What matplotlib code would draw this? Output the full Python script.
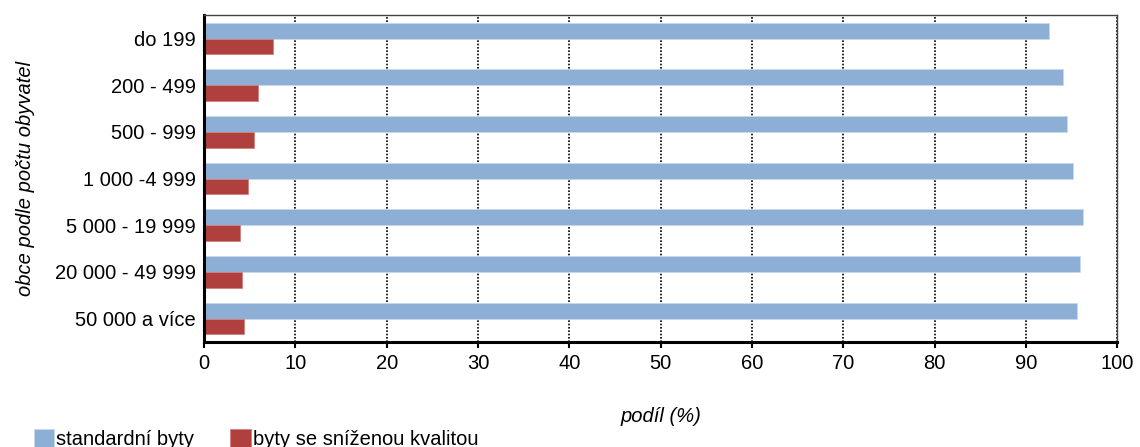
import matplotlib
matplotlib.use("Agg")
import matplotlib.pyplot as plt
import numpy as np

plt.rcParams["font.family"] = ["Liberation Sans", "DejaVu Sans"]

categories = ["do 199", "200 - 499", "500 - 999", "1 000 -4 999",
              "5 000 - 19 999", "20 000 - 49 999", "50 000 a více"]
standard = [92.5, 94.1, 94.5, 95.2, 96.2, 95.9, 95.6]
reduced = [7.5, 5.9, 5.5, 4.8, 3.9, 4.2, 4.4]
series_names = ["standardní byty", "byty se sníženou kvalitou"]

fs = 14.5
fig, ax = plt.subplots(figsize=(11.4, 4.47), dpi=100)
fig.subplots_adjust(left=0.179, right=0.98, top=0.966, bottom=0.235)

y = np.arange(len(categories))
h = 0.34
ax.barh(y - h / 2, standard, height=h, color="#8DAFD5", edgecolor="#C9D8EA",
        linewidth=0.6, label=series_names[0], zorder=2)
ax.barh(y + h / 2, reduced, height=h, color="#AF403D", edgecolor="#D08080",
        linewidth=0.6, label=series_names[1], zorder=2)

ax.set_ylim(len(categories) - 0.5, -0.5)
ax.set_xlim(0, 100)
ax.set_xticks(range(0, 101, 10))
ax.set_yticks(y, categories)
ax.tick_params(axis="y", length=0, labelsize=fs, pad=6)
ax.tick_params(axis="x", direction="out", length=4, width=1.5, labelsize=fs, pad=5)
ax.xaxis.grid(True, linestyle=(0, (1, 1)), color="black", linewidth=1.2, zorder=1)

for side in ["left", "bottom"]:
    ax.spines[side].set_linewidth(2.2)
for side in ["top", "right"]:
    ax.spines[side].set_linewidth(1.0)
    ax.spines[side].set_color("#444444")

ax.set_xlabel("podíl (%)", fontstyle="italic", fontsize=fs, labelpad=24)
ax.set_ylabel("obce podle počtu obyvatel", fontstyle="italic", fontsize=fs, labelpad=14)

fig.legend(loc="lower left", bbox_to_anchor=(0.014, -0.045), ncol=2, frameon=False,
           fontsize=fs, handlelength=1.0, handleheight=1.0, handletextpad=0.1,
           columnspacing=1.8)

fig.savefig("out.png", dpi=100)
